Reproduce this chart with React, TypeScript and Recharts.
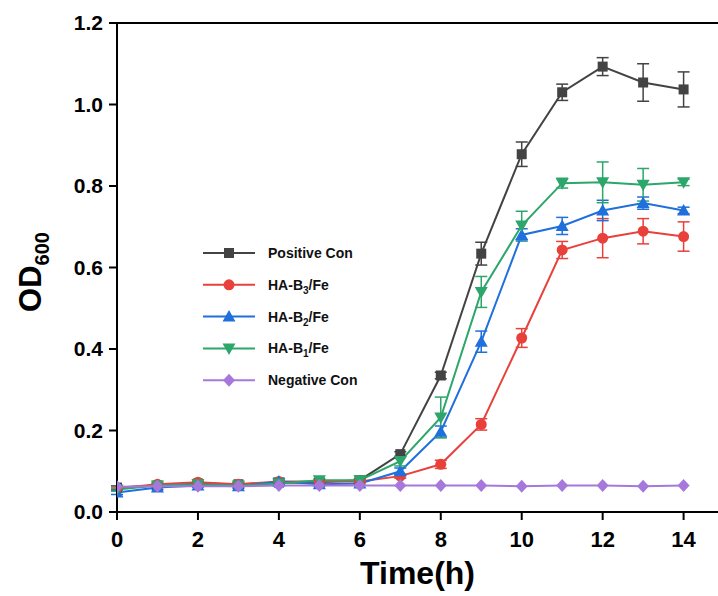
import React from "react";
import { LineChart, Line, XAxis, YAxis, ErrorBar, ReferenceLine } from "recharts";

const hours = [0, 1, 2, 3, 4, 5, 6, 7, 8, 9, 10, 11, 12, 13, 14];

const positive = [0.06, 0.065, 0.07, 0.068, 0.072, 0.073, 0.078, 0.142, 0.335, 0.634, 0.878, 1.03, 1.093, 1.054, 1.037];
const positiveErr = [0.004, 0.004, 0.004, 0.004, 0.004, 0.004, 0.004, 0.006, 0.008, 0.028, 0.03, 0.02, 0.022, 0.046, 0.043];

const b3 = [0.058, 0.068, 0.073, 0.068, 0.075, 0.075, 0.075, 0.088, 0.117, 0.215, 0.427, 0.643, 0.672, 0.689, 0.676];
const b3Err = [0.004, 0.005, 0.006, 0.005, 0.005, 0.004, 0.004, 0.005, 0.01, 0.014, 0.023, 0.021, 0.048, 0.031, 0.036];

const b2 = [0.048, 0.06, 0.065, 0.063, 0.075, 0.068, 0.07, 0.1, 0.197, 0.418, 0.68, 0.702, 0.74, 0.758, 0.74];
const b2Err = [0.005, 0.005, 0.004, 0.005, 0.008, 0.005, 0.004, 0.008, 0.014, 0.026, 0.015, 0.021, 0.025, 0.015, 0.008];

const b1 = [0.055, 0.065, 0.068, 0.065, 0.07, 0.078, 0.078, 0.125, 0.232, 0.54, 0.703, 0.807, 0.809, 0.803, 0.809];
const b1Err = [0.004, 0.004, 0.004, 0.004, 0.004, 0.004, 0.004, 0.012, 0.05, 0.038, 0.035, 0.012, 0.05, 0.04, 0.008];

const negative = [0.062, 0.063, 0.063, 0.063, 0.065, 0.065, 0.065, 0.065, 0.065, 0.065, 0.063, 0.065, 0.065, 0.063, 0.065];

const yTicks = [0, 0.2, 0.4, 0.6, 0.8, 1.0, 1.2];
const xTicks = [0, 2, 4, 6, 8, 10, 12, 14];

const data = hours.map((t, i) => ({
  t,
  positive: positive[i], positiveErr: positiveErr[i],
  b3: b3[i], b3Err: b3Err[i],
  b2: b2[i], b2Err: b2Err[i],
  b1: b1[i], b1Err: b1Err[i],
  negative: negative[i],
}));

const FONT = "'Liberation Sans', Arial, sans-serif";
const C = { pos: "#434343", b3: "#e8413b", b2: "#1f6fdc", b1: "#2ca66a", neg: "#a678dc" };

type Shape = "square" | "circle" | "up" | "down" | "diamond";

function Marker({ x, y, shape, color }: { x: number; y: number; shape: Shape; color: string }) {
  if (shape === "square") return <rect x={x - 5} y={y - 5} width={10} height={10} fill={color} />;
  if (shape === "circle") return <circle cx={x} cy={y} r={5.5} fill={color} />;
  if (shape === "up") return <polygon points={`${x},${y - 6.5} ${x + 6.5},${y + 5} ${x - 6.5},${y + 5}`} fill={color} />;
  if (shape === "down") return <polygon points={`${x},${y + 6.5} ${x + 6.5},${y - 5} ${x - 6.5},${y - 5}`} fill={color} />;
  return <polygon points={`${x},${y - 6.5} ${x + 6},${y} ${x},${y + 6.5} ${x - 6},${y}`} fill={color} />;
}

const dotFor = (shape: Shape, color: string) => (p: any) =>
  <Marker key={`${shape}-${p.index}`} x={p.cx} y={p.cy} shape={shape} color={color} />;

const legendItems: { name: string; sub?: string; shape: Shape; color: string }[] = [
  { name: "Positive Con", shape: "square", color: C.pos },
  { name: "HA-B", sub: "3", shape: "circle", color: C.b3 },
  { name: "HA-B", sub: "2", shape: "up", color: C.b2 },
  { name: "HA-B", sub: "1", shape: "down", color: C.b1 },
  { name: "Negative Con", shape: "diamond", color: C.neg },
];

function LegendBox() {
  return (
    <svg width={200} height={160} style={{ display: "block" }}>
      {legendItems.map((it, i) => {
        const y = 12 + i * 31.8;
        return (
          <g key={it.name + i}>
            <line x1={3} x2={55} y1={y} y2={y} stroke={it.color} strokeWidth={2} />
            <Marker x={29} y={y} shape={it.shape} color={it.color} />
            <text x={68} y={y + 5} fontFamily={FONT} fontWeight="bold" fontSize={14} fill="#111">
              {it.name}
              {it.sub && <tspan fontSize={10} dy={4}>{it.sub}</tspan>}
              {it.sub && <tspan dy={-4}>/Fe</tspan>}
            </text>
          </g>
        );
      })}
    </svg>
  );
}

function YLabel() {
  return (
    <text x={0} y={0} transform="translate(41,272) rotate(-90)" textAnchor="middle" fontFamily={FONT} fontWeight="bold" fontSize={31} fill="#000">
      OD<tspan fontSize={20} dy={8}>600</tspan>
    </text>
  );
}

const renderXTick = (p: any) => (
  <text key={`xt-${p.index}`} x={p.x} y={p.y + 25} textAnchor="middle" fontFamily={FONT} fontWeight="bold" fontSize={22} fill="#000">
    {p.payload.value}
  </text>
);

export default function App() {
  return (
    <div style={{ position: "absolute", left: 0, top: 0, width: 718, height: 596, background: "#fff", overflow: "hidden" }}>
      <LineChart width={718} height={596} data={data} margin={{ top: 23, right: 0, bottom: 0, left: 0 }}>
        <XAxis
          dataKey="t" type="number" domain={[0, 14.85]} ticks={xTicks} allowDataOverflow
          stroke="#000" strokeWidth={2} tickSize={8} height={84}
          tick={renderXTick}
          label={{ value: "Time(h)", position: "insideBottom", offset: 12, fill: "#000", fontSize: 32, fontWeight: "bold", fontFamily: FONT }}
        />
        <YAxis
          type="number" domain={[0, 1.2]} ticks={yTicks} width={117}
          stroke="#000" strokeWidth={2} tickSize={8} tickMargin={6}
          tickFormatter={(v: number) => v.toFixed(1)}
          tick={{ fill: "#000", fontSize: 21, fontWeight: "bold", fontFamily: FONT }}
          label={<YLabel />}
        />
        <ReferenceLine y={1.2} stroke="#000" strokeWidth={2} />
        <Line dataKey="positive" stroke={C.pos} strokeWidth={2} isAnimationActive={false} dot={dotFor("square", C.pos)} activeDot={false}>
          <ErrorBar dataKey="positiveErr" direction="y" width={6} stroke={C.pos} strokeWidth={1.5} />
        </Line>
        <Line dataKey="b3" stroke={C.b3} strokeWidth={2} isAnimationActive={false} dot={dotFor("circle", C.b3)} activeDot={false}>
          <ErrorBar dataKey="b3Err" direction="y" width={6} stroke={C.b3} strokeWidth={1.5} />
        </Line>
        <Line dataKey="b2" stroke={C.b2} strokeWidth={2} isAnimationActive={false} dot={dotFor("up", C.b2)} activeDot={false}>
          <ErrorBar dataKey="b2Err" direction="y" width={6} stroke={C.b2} strokeWidth={1.5} />
        </Line>
        <Line dataKey="b1" stroke={C.b1} strokeWidth={2} isAnimationActive={false} dot={dotFor("down", C.b1)} activeDot={false}>
          <ErrorBar dataKey="b1Err" direction="y" width={6} stroke={C.b1} strokeWidth={1.5} />
        </Line>
        <Line dataKey="negative" stroke={C.neg} strokeWidth={2} isAnimationActive={false} dot={dotFor("diamond", C.neg)} activeDot={false} />
      </LineChart>
      <div style={{ position: "absolute", left: 200, top: 241 }}>
        <LegendBox />
      </div>
    </div>
  );
}
